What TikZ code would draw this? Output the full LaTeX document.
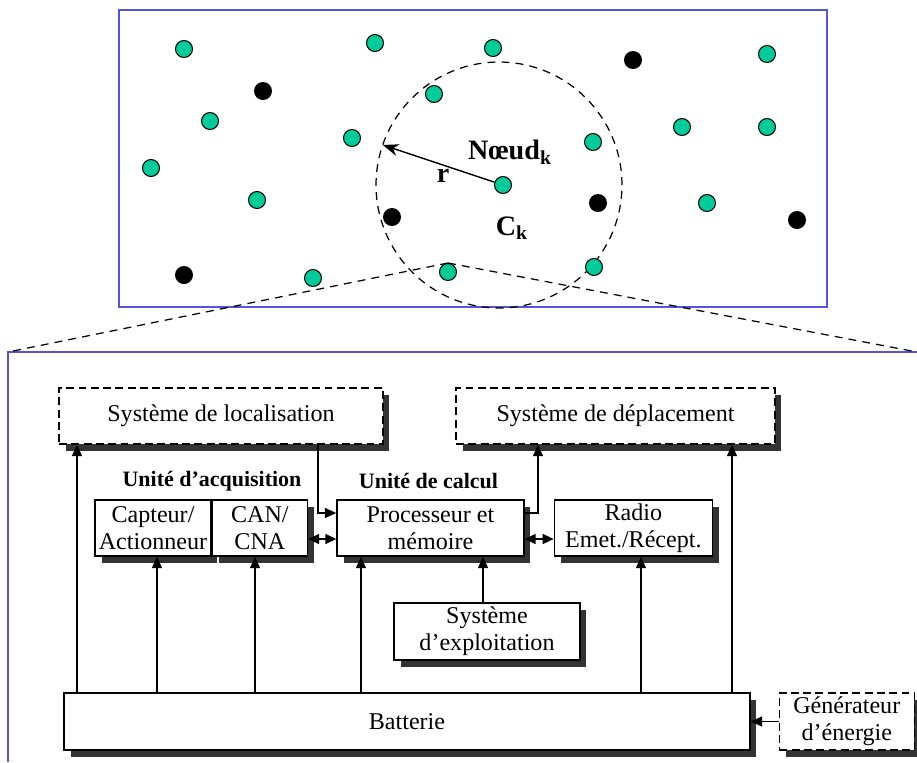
\documentclass[tikz,border=0pt]{standalone}
\usepackage{xcolor}
\usepackage{fontspec}
\setmainfont{Liberation Serif}
\usetikzlibrary{
    arrows.meta,
    positioning,
    shadows
}
\definecolor{vertnoeud}{RGB}{0,204,153}
\definecolor{bleucadre}{RGB}{85,85,220}

\begin{document}
\begin{tikzpicture}[
x=0.02cm, y=-0.02cm,
box/.style={
draw,
fill=white,
line width=0.8pt,
minimum height=1.12cm,
inner sep=1pt,
align=center,
font=\fontsize{13.7}{15.5}\selectfont,
drop shadow={shadow xshift=0.13cm, shadow yshift=-0.13cm, fill=black!80, opacity=1}
},
dbox/.style={
box,
dash pattern=on 4.5pt off 2.5pt
},
lbl/.style={
font=\bfseries\fontsize{12.5}{14}\selectfont
},
big/.style={
font=\bfseries\fontsize{16}{18}\selectfont
},
vert/.style={
circle,
draw,
line width=0.6pt,
fill=vertnoeud,
minimum size=0.34cm,
inner sep=0pt
},
noir/.style={
circle,
fill=black,
minimum size=0.36cm,
inner sep=0pt
},
frame/.style={
draw=bleucadre,
line width=0.9pt
},
proj/.style={
line width=0.7pt,
dash pattern=on 4.5pt off 3.5pt
},
arr/.style={
-{Triangle[length=0.23cm,width=0.2cm]},
line width=0.8pt
},
dbl/.style={
{Triangle[length=0.22cm,width=0.2cm]}-{Triangle[length=0.22cm,width=0.2cm]},
line width=0.8pt
}
]

\useasboundingbox (0,0) rectangle (917,762);

\draw[frame] (119,10) rectangle (827,307);

\coordinate (zl) at (8,352);
\coordinate (zr) at (917,352);
\draw[frame] (8,762) -- (zl) -- (zr);

\coordinate (ck) at (499,185);
\draw[proj] (ck) circle[radius=2.46cm];

\node[vert] (vc) at (448,272) {};
\draw[proj] (vc.north) -- (zl);
\draw[proj] (vc.north) -- (zr);

\foreach \p [count=\i] in {(184,49),(375,43),(493,48),(767,54),(210,121),
(434,94),(352,138),(593,142),(682,127),(767,127),(151,168),(257,200),
(707,203),(313,278),(594,267)}
\node[vert] (v\i) at \p {};

\foreach \p [count=\i] in {(263,91),(633,60),(392,217),(598,203),(797,220),(184,275)}
\node[noir] (n\i) at \p {};

\node[vert] (nk) at (503,185) {};
\coordinate (redge) at ([shift={(161:2.46cm)}]ck);
\draw[-{Stealth[length=0.32cm,width=0.24cm]}, line width=0.8pt]
(nk) -- (redge);

\node[big] (lnk) at (510,152) {Nœud\textsubscript{k}};
\node[big] (lr) at (443,176) {r};
\node[big] (lck) at (512,228) {C\textsubscript{k}};

\node[dbox, minimum width=6.48cm] (loc) at (221,416)
{Système de localisation};

\node[dbox, minimum width=6.38cm] (dep) at (615.5,416)
{Système de déplacement};

\node[lbl] (acq) at (212,481) {Unité d’acquisition};
\node[lbl] (calc) at (428.5,481) {Unité de calcul};

\node[box, minimum width=2.32cm] (capt) at (153,528)
{Capteur/\\Actionneur};

\node[box, minimum width=1.9cm,
right=0pt of capt] (can)
{CAN/\\CNA};

\node[box, minimum width=3.74cm] (proc) at (430.5,528)
{Processeur et\\mémoire};

\node[box, minimum width=3.16cm,
right=0.58cm of proc] (radio)
{Radio\\Emet./Récept.};

\node[box, minimum width=3.72cm, minimum height=1.14cm] (os) at (487,631.5)
{Système\\d’exploitation};

\node[box, minimum width=13.72cm, minimum height=1.14cm] (batt) at (407,721.5)
{Batterie};

\node[dbox, minimum width=2.7cm, minimum height=1.14cm,
right=0.56cm of batt] (gen)
{Générateur\\d’énergie};

\draw[arr] (batt.north -| 77,0) -- (loc.south -| 77,0);
\draw[arr] (batt.north -| 157,0) -- (capt.south -| 157,0);
\draw[arr] (batt.north -| 255,0) -- (can.south -| 255,0);
\draw[arr] (batt.north -| 361,0) -- (proc.south -| 361,0);
\draw[arr] (os.north -| 483,0) -- (proc.south -| 483,0);
\draw[arr] (batt.north -| 641,0) -- (radio.south -| 641,0);
\draw[arr] (batt.north -| 732,0) -- (dep.south -| 732,0);

\draw[arr] (loc.south -| 318,0) |- ([yshift=0.3cm]proc.west);
\draw[arr] ([yshift=0.3cm]proc.east) -| (dep.south -| 538,0);

\draw[dbl] ([yshift=-0.22cm]can.east) -- ([yshift=-0.22cm]proc.west);
\draw[dbl] ([yshift=-0.22cm]proc.east) -- ([yshift=-0.22cm]radio.west);

\draw[arr] (gen) -- (batt);

\end{tikzpicture}
\end{document}
